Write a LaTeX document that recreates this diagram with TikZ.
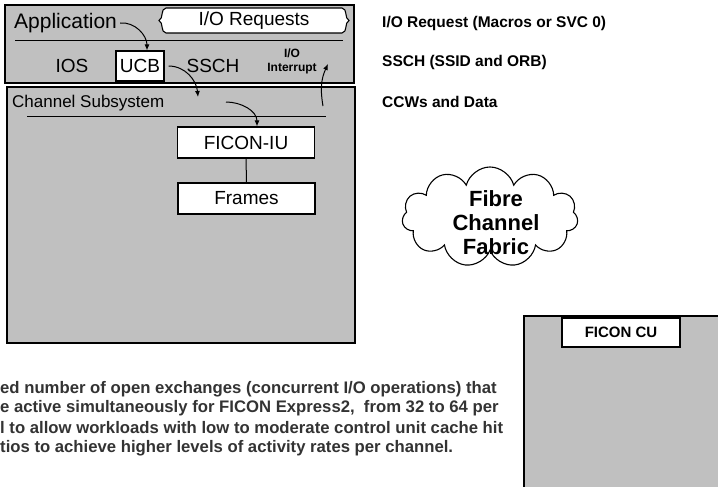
\documentclass[tikz,border=0pt]{standalone}
\usepackage{fontspec}
\setmainfont{Liberation Sans}
\usetikzlibrary{arrows.meta, positioning, shapes.symbols}

\definecolor{boxgray}{HTML}{C0C0C0}
\definecolor{notegray}{HTML}{333333}
\tikzset{
  panel/.style={draw, line width=1.3pt, fill=boxgray},
  whitebox/.style={draw, line width=1.1pt, fill=white, inner sep=0pt},
  flow/.style={-{Latex[length=6pt,width=5pt]}, line width=1pt},
  lbl/.style={font=\fontsize{19}{22}\selectfont, inner sep=0pt},
  note/.style={font=\bfseries\fontsize{15.5}{18}\selectfont, anchor=west, inner sep=0pt},
  body/.style={font=\bfseries\fontsize{16.7}{19}\selectfont, anchor=west, inner sep=0pt, text=notegray},
}

\begin{document}
\begin{tikzpicture}[x=1pt, y=-1pt]
\clip (0,0) rectangle (718,487);
\fill[white] (0,0) rectangle (718,487);

% host side
\draw[panel] (5,5) rectangle (354,83);
\draw[line width=1.1pt, fill=white] (166,8) -- (342,8)
  .. controls (348,9) and (344,18) .. (349,20.5)
  .. controls (344,23) and (348,32) .. (342,33) -- (166,33)
  .. controls (160,32) and (164,23) .. (159,20.5)
  .. controls (164,18) and (160,9) .. (166,8) -- cycle;
\node[lbl] (req) at (254,21) {I/O Requests};
\draw[line width=1pt] (15,41) -- (343,41);
\node[lbl, font=\fontsize{21}{24}\selectfont, anchor=west] (app) at (14,23) {Application};
\node[lbl] (ios) at (72,66) {IOS};
\node[whitebox, lbl, minimum width=48, minimum height=30] (ucb) at (140,66) {UCB};
\node[lbl] (ssch) at (213,66) {SSCH};
\node[font=\bfseries\fontsize{12}{14}\selectfont, align=center, inner sep=0pt] (irq) at (292,61) {I/O\\Interrupt};

% channel subsystem
\draw[panel] (7,87) rectangle (355,343);
\node[lbl, font=\fontsize{17}{20}\selectfont, anchor=west] (css) at (12,103) {Channel Subsystem};
\draw[line width=1pt] (27,116) -- (326,116);
\node[whitebox, lbl, minimum width=137, minimum height=31] (iu) at (246,142.5) {FICON-IU};
\node[whitebox, lbl, minimum width=137, minimum height=31] (frames) at (246.5,198.5) {Frames};
\draw[line width=1pt] (iu) -- (frames);

\coordinate (csentry) at (198,97);
\coordinate (csin) at (226,102);
\coordinate (irqsrc) at (323,106);
\coordinate (irqtip) at (328,64);
\draw[flow] ([xshift=3pt]app.east) to[out=5, in=90] ([xshift=7pt]ucb.north);
\draw[flow] ([xshift=4pt]ucb.east) to[out=0, in=95] (csentry);
\draw[flow] (csin) to[out=0, in=90] ([xshift=11pt]iu.north);
\draw[flow] (irqsrc) to[out=100, in=245] (irqtip);

% notes
\node[note] (n1) at (382,23) {I/O Request (Macros or SVC 0)};
\node[note] (n2) at (382,62) {SSCH (SSID and ORB)};
\node[note] (n3) at (382,102) {CCWs and Data};

% fabric
\node[cloud, cloud puffs=11, aspect=1.75, draw, line width=1.1pt, fill=white,
      minimum width=176, minimum height=100, inner sep=0pt] (fabric) at (490,217) {};
\node[font=\bfseries\fontsize{22}{24}\selectfont, align=center, inner sep=0pt] (fabrictxt) at (496,223) {Fibre\\Channel\\Fabric};

% control unit
\draw[panel] (524,316) rectangle (730,500);
\node[whitebox, font=\bfseries\fontsize{15}{18}\selectfont, minimum width=118, minimum height=29] (cu) at (621,332.5) {FICON CU};

% text
\node[body] (t1) at (0,389) {ed number of open exchanges (concurrent I/O operations) that};
\node[body] (t2) at (0,408.5) {e active simultaneously for FICON Express2,\ \ from 32 to 64 per};
\node[body] (t3) at (0,428) {l to allow workloads with low to moderate control unit cache hit};
\node[body] (t4) at (0,448) {tios to achieve higher levels of activity rates per channel.};
\end{tikzpicture}
\end{document}
